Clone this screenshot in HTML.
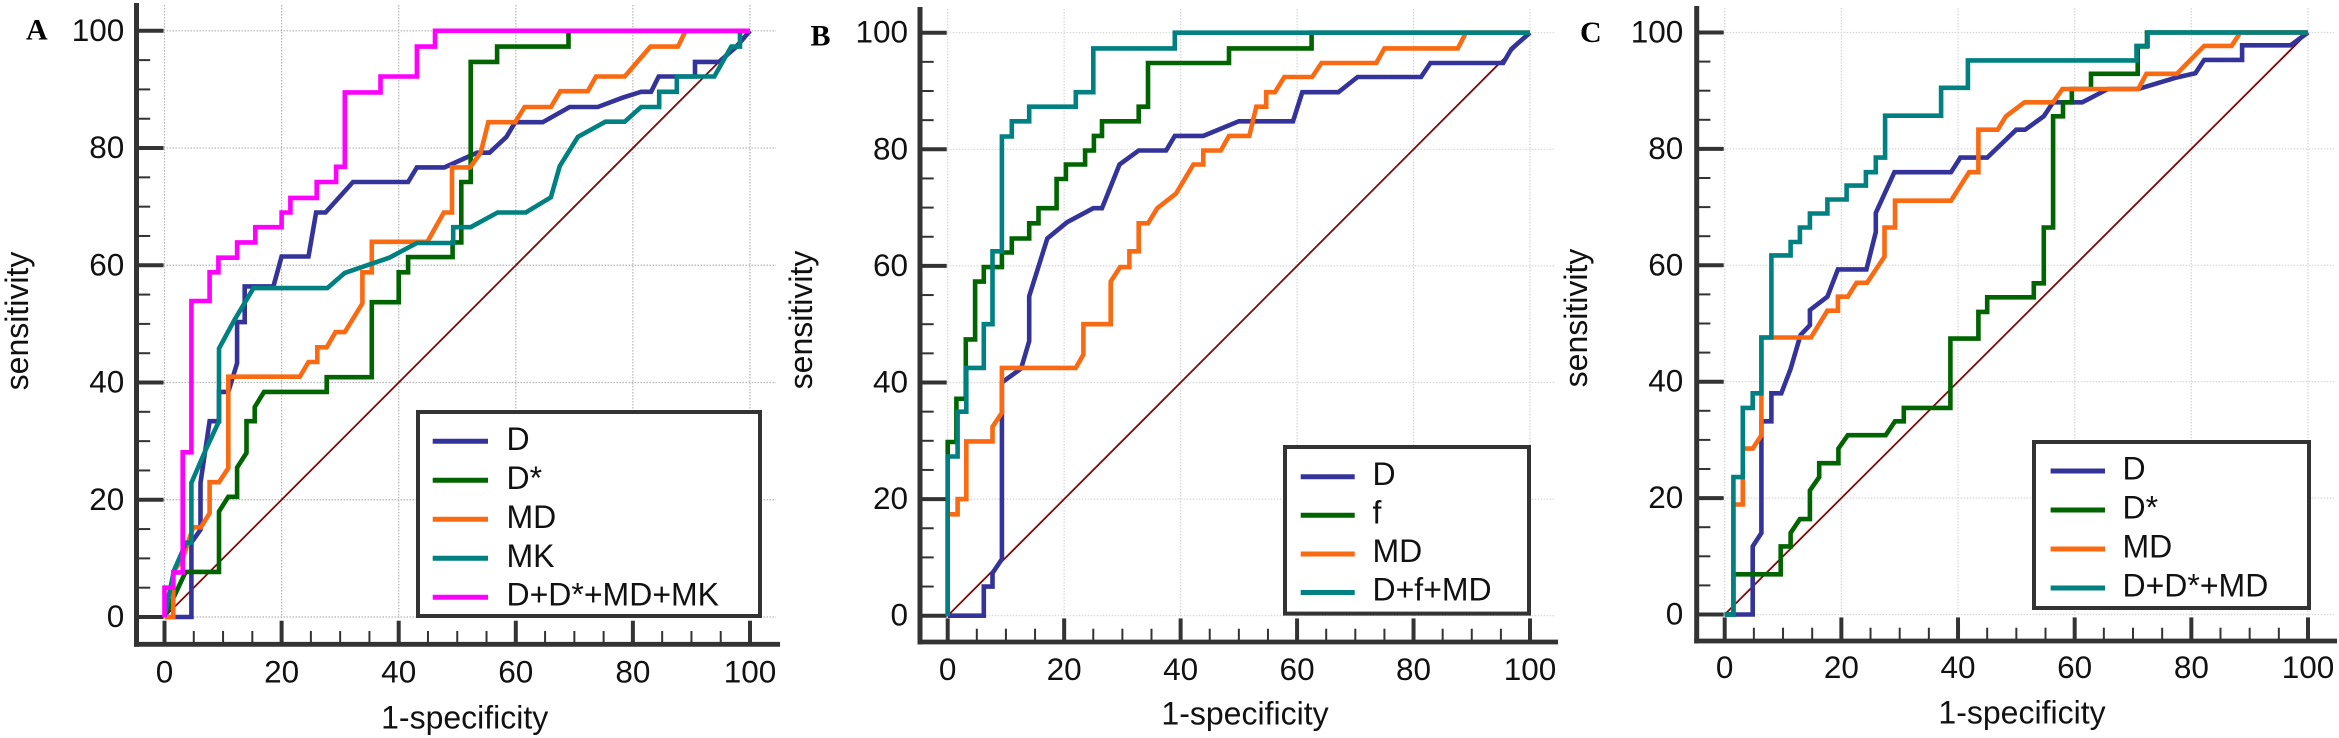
<!DOCTYPE html>
<html lang="en">
<head>
<meta charset="utf-8">
<title>ROC curves for panels A, B and C</title>
<style>
html,body{margin:0;padding:0;background:#fff;width:2339px;height:738px;overflow:hidden}
svg{display:block}
text{font-family:"Liberation Sans",sans-serif;font-size:32px;fill:#111}
.tick-text{font-size:31.5px}
.panel-letter{font-family:"Liberation Serif",serif;font-weight:bold;font-size:30px;fill:#000}
</style>
</head>
<body>
<svg id="chart" xmlns="http://www.w3.org/2000/svg" width="2339" height="738" viewBox="0 0 2339 738">
  <rect width="2339" height="738" fill="#fff"/>

  <g id="panel-a">
    <g id="panel-a-plot"></g>
    <text class="panel-letter" x="26" y="39.5">A</text>
    <text transform="translate(28,321) rotate(-90)" text-anchor="middle">sensitivity</text>
    <text x="464.7" y="728.5" text-anchor="middle">1-specificity</text>
    <g>
      <rect x="418" y="412" width="342" height="204" fill="#fff" stroke="#333" stroke-width="4"/>
      <line x1="432.7" x2="488" y1="441.3" y2="441.3" stroke="#333399" stroke-width="5"/>
      <text x="506.5" y="450">D</text>
      <line x1="432.7" x2="488" y1="480.3" y2="480.3" stroke="#006400" stroke-width="5"/>
      <text x="506.5" y="489">D*</text>
      <line x1="432.7" x2="488" y1="519.3" y2="519.3" stroke="#fa6a12" stroke-width="5"/>
      <text x="506.5" y="527.8">MD</text>
      <line x1="432.7" x2="488" y1="558.3" y2="558.3" stroke="#008080" stroke-width="5"/>
      <text x="506.5" y="566.8">MK</text>
      <line x1="432.7" x2="488" y1="597.3" y2="597.3" stroke="#ff00ff" stroke-width="5"/>
      <text x="506.5" y="605.7">D+D*+MD+MK</text>
    </g>
  </g>

  <g id="panel-b">
    <g id="panel-b-plot"></g>
    <text class="panel-letter" x="810.5" y="45.5">B</text>
    <text transform="translate(812,320) rotate(-90)" text-anchor="middle">sensitivity</text>
    <text x="1245" y="724.5" text-anchor="middle">1-specificity</text>
    <g>
      <rect x="1285" y="447" width="244" height="166.6" fill="#fff" stroke="#333" stroke-width="4"/>
      <line x1="1300.7" x2="1354.7" y1="476.7" y2="476.7" stroke="#333399" stroke-width="5"/>
      <text x="1372.5" y="485">D</text>
      <line x1="1300.7" x2="1354.7" y1="515.3" y2="515.3" stroke="#006400" stroke-width="5"/>
      <text x="1372.5" y="523.5">f</text>
      <line x1="1300.7" x2="1354.7" y1="554" y2="554" stroke="#fa6a12" stroke-width="5"/>
      <text x="1372.5" y="562.2">MD</text>
      <line x1="1300.7" x2="1354.7" y1="592.5" y2="592.5" stroke="#008080" stroke-width="5"/>
      <text x="1372.5" y="600.7">D+f+MD</text>
    </g>
  </g>

  <g id="panel-c">
    <g id="panel-c-plot"></g>
    <text class="panel-letter" x="1580" y="42">C</text>
    <text transform="translate(1587,318) rotate(-90)" text-anchor="middle">sensitivity</text>
    <text x="2022" y="723.5" text-anchor="middle">1-specificity</text>
    <g>
      <rect x="2034" y="442" width="275" height="166" fill="#fff" stroke="#333" stroke-width="4"/>
      <line x1="2050.6" x2="2105" y1="471" y2="471" stroke="#333399" stroke-width="5"/>
      <text x="2122.5" y="479.3">D</text>
      <line x1="2050.6" x2="2105" y1="510" y2="510" stroke="#006400" stroke-width="5"/>
      <text x="2122.5" y="518.3">D*</text>
      <line x1="2050.6" x2="2105" y1="549" y2="549" stroke="#fa6a12" stroke-width="5"/>
      <text x="2122.5" y="557.3">MD</text>
      <line x1="2050.6" x2="2105" y1="588" y2="588" stroke="#008080" stroke-width="5"/>
      <text x="2122.5" y="596.3">D+D*+MD</text>
    </g>
  </g>
</svg>

<script>
// Tick labels
const majorTickLabels = [0, 20, 40, 60, 80, 100];
const minorTickValues = [5, 10, 15, 25, 30, 35, 45, 50, 55, 65, 70, 75, 85, 90, 95];

// Reference (chance) diagonal
const chanceLine = [[0, 0], [100, 100]];

// Panel A series: [1-specificity, sensitivity]
const panelA_D = [[0,0],[4.6,0],[4.6,12.7],[6.15,14.9],[6.15,22.9],[6.9,28],[7.7,33.4],[9.3,33.4],[9.3,38.4],[10.9,38.4],[12.4,43.3],[12.4,50.3],[13.7,50.3],[13.7,56.4],[18.6,56.4],[20,61.5],[24.6,61.5],[25.9,69],[27.5,69],[32.2,74.2],[41.6,74.2],[43.1,76.7],[47.8,76.7],[53.4,79.2],[55.5,79.2],[58.4,81.9],[59.9,84.4],[64.6,84.4],[69.2,87],[74,87],[78.3,88.6],[81.4,89.6],[83.1,89.6],[84.4,92.2],[90.6,92.2],[90.6,94.7],[94.7,94.7],[97.7,97.3],[100,100]];
const panelA_Dstar = [[0,0],[3.6,7.7],[9.3,7.7],[9.3,18],[10.9,20.5],[12.4,20.5],[12.4,25.5],[14,28],[14,33.4],[15.4,33.4],[15.4,35.8],[17,38.4],[27.7,38.4],[27.7,40.9],[35.4,40.9],[35.4,53.7],[40,53.7],[40,58.8],[41.6,58.8],[41.6,61.4],[49.2,61.4],[49.2,63.9],[50.7,63.9],[50.7,74.2],[52.3,74.2],[52.3,94.7],[56.8,94.7],[56.8,97.3],[69,97.3],[69,100],[100,100]];
const panelA_MD = [[0,0],[1.5,0],[1.5,4.7],[1.5,7.7],[3.1,10],[4.9,15.3],[6.2,15.3],[7.7,17.7],[7.7,23],[9.3,23],[10.9,25.4],[10.9,41],[23.1,41],[24.6,43.5],[26.1,43.5],[26.1,46],[27.7,46],[29.2,48.6],[30.8,48.6],[33.8,53.5],[33.8,58.8],[35.4,58.8],[35.4,64],[44.9,64],[47.7,69],[49.1,69],[49.1,76.7],[52.2,76.7],[54,79.2],[55.3,84.4],[59.9,84.4],[61.5,87],[66,87],[67.6,89.7],[72.3,89.7],[73.7,92.2],[78.6,92.2],[83,97.3],[87.7,97.3],[89,100],[100,100]];
const panelA_MK = [[0,0],[1.6,7.9],[3.7,12.7],[4.6,12.7],[4.6,22.9],[7.2,28.9],[9.3,33.4],[9.3,45.8],[11.9,50.6],[15.2,56.1],[27.8,56.1],[30.8,58.7],[38.4,61.3],[43.1,63.8],[49.3,63.8],[49.3,66.5],[52.3,66.5],[56.9,69],[61.7,69],[66,71.6],[67.5,76.9],[70.6,81.9],[75.3,84.5],[78.6,84.5],[81.4,87],[84.5,87],[84.5,89.6],[87.5,89.6],[87.5,92.2],[93.9,92.2],[96.8,97.3],[98.3,97.3],[98.3,100],[100,100]];
const panelA_Combined = [[0,0],[0,5],[1.5,5],[1.5,7.6],[3.1,7.6],[3.1,28.1],[4.6,28.1],[4.6,53.9],[7.7,53.9],[7.7,58.8],[9.2,58.8],[9.2,61.3],[12.4,61.3],[12.4,63.9],[15.5,63.9],[15.5,66.5],[20,66.5],[20,69],[21.5,69],[21.5,71.5],[26,71.5],[26,74.2],[29.3,74.2],[29.3,76.8],[30.8,76.8],[30.8,89.5],[36.9,89.5],[36.9,92.2],[43.1,92.2],[43.1,97.3],[46.2,97.3],[46.2,100],[100,100]];

// Panel B series
const panelB_D = [[0,0],[6.2,0],[6.2,5],[7.7,5],[7.7,7.3],[9.3,9.7],[9.3,40],[12.6,42.4],[14,47.1],[14,54.8],[17.1,64.7],[20.5,67.5],[25,69.9],[26.5,69.9],[29.5,77.4],[32.8,79.8],[37.5,79.8],[39,82.3],[43.9,82.3],[50,84.8],[59.3,84.8],[60.9,89.8],[67.1,89.8],[70.4,92.4],[81.3,92.4],[82.9,94.8],[95.4,94.8],[96.8,97.2],[100,100]];
const panelB_f = [[0,0],[0,29.8],[1.5,29.8],[1.5,37.2],[3.1,37.2],[3.1,47.4],[4.7,47.4],[4.7,57.3],[6.2,57.3],[6.2,59.8],[9.3,59.8],[9.3,62.3],[11,62.3],[11,64.7],[14,64.7],[14,67.3],[15.6,67.3],[15.6,69.9],[18.7,69.9],[18.7,74.9],[20.3,74.9],[20.3,77.4],[23.6,77.4],[23.6,79.8],[25.1,79.8],[25.1,82.3],[26.5,82.3],[26.5,84.8],[32.8,84.8],[32.8,87.3],[34.4,87.3],[34.4,94.8],[48.3,94.8],[48.3,97.3],[62.5,97.3],[62.5,100],[100,100]];
const panelB_MD = [[0,0],[0,17.4],[1.7,17.4],[1.7,20],[3.2,20],[3.2,29.9],[7.7,29.9],[7.7,32.4],[9.3,34.8],[9.3,42.5],[22,42.5],[23.3,44.8],[23.3,50],[28,50],[28,57.3],[29.6,59.8],[31.2,59.8],[31.2,62.5],[32.8,62.5],[32.8,67.3],[34.4,67.3],[36,69.9],[39.2,72.4],[42.2,77.4],[43.9,77.4],[43.9,79.8],[46.9,79.8],[48.3,82.3],[51.8,82.3],[53,87.3],[54.7,87.3],[54.7,89.8],[56.2,89.8],[57.8,92.4],[62.6,92.4],[64.2,94.8],[73.6,94.8],[75,97.3],[87.6,97.3],[89,100],[100,100]];
const panelB_Combined = [[0,0],[0,27.3],[1.7,27.3],[1.7,35],[3.2,35],[3.2,42.5],[6.2,42.5],[6.2,50],[7.7,50],[7.7,62.5],[9.3,62.5],[9.3,82.2],[11,82.2],[11,84.8],[14,84.8],[14,87.3],[22,87.3],[22,89.8],[25,89.8],[25,97.3],[39,97.3],[39,100],[100,100]];

// Panel C series
const panelC_D = [[0,0],[4.8,0],[4.8,11.7],[6.3,14],[6.3,33.2],[8,33.2],[8,38],[9.7,38],[11.3,42.2],[13,48],[14.6,49.7],[14.6,52.3],[17.6,54.6],[19.4,59.3],[24.3,59.3],[25.9,65.7],[25.9,69],[29.1,76],[38.8,76],[40.4,78.5],[45,78.5],[50,83.3],[51.5,83.3],[54.7,85.6],[56.3,88],[61.3,88],[65.7,90.3],[70.9,90.3],[77.2,92.2],[80.7,93],[82.2,95.3],[88.7,95.3],[88.7,97.8],[97,97.8],[100,100]];
const panelC_Dstar = [[0,0],[1.5,0],[1.5,6.9],[9.6,6.9],[9.6,11.7],[11.3,11.7],[11.3,14],[12.9,16.4],[14.6,16.4],[14.6,21.3],[16.2,23.6],[16.2,26],[19.5,26],[19.5,28.5],[21.1,30.8],[27.6,30.8],[29.2,33.2],[30.7,33.2],[30.7,35.5],[38.7,35.5],[38.7,47.4],[43.5,47.4],[43.5,52],[45,52],[45,54.5],[53,54.5],[53,56.9],[54.7,56.9],[54.7,66.5],[56.3,66.5],[56.3,85.6],[58,85.6],[58,88],[59.5,88],[59.5,90.3],[62.8,90.3],[62.8,92.9],[70.8,92.9],[70.8,97.6],[72.4,97.6],[72.4,100],[100,100]];
const panelC_MD = [[1.5,0],[1.5,18.9],[3.1,18.9],[3.1,28.5],[4.8,28.5],[6.3,30.8],[6.3,47.6],[14.8,47.6],[17.6,52.2],[19.4,52.2],[19.4,54.6],[21.1,54.6],[22.6,57],[24.4,57],[27.4,61.5],[27.4,66.5],[29.2,66.5],[29.2,71.1],[38.8,71.1],[41.9,76],[43.5,76],[43.5,83.3],[46.8,83.3],[48.2,85.6],[51.4,88],[56.3,88],[57.9,90.3],[70.9,90.3],[72.3,92.9],[77.5,92.9],[82.2,97.7],[86.9,97.7],[88.4,100],[100,100]];
const panelC_Combined = [[0,0],[1.5,0],[1.5,23.6],[3.1,23.6],[3.1,35.5],[4.8,35.5],[4.8,38],[6.3,38],[6.3,47.6],[8,47.6],[8,61.7],[11.3,61.7],[11.3,64],[12.9,64],[12.9,66.5],[14.6,66.5],[14.6,68.9],[17.6,68.9],[17.6,71.3],[20.9,71.3],[20.9,73.7],[24.2,73.7],[24.2,76],[25.9,76],[25.9,78.5],[27.5,78.5],[27.5,85.7],[37.1,85.7],[37.1,90.5],[41.7,90.5],[41.7,95.2],[70.6,95.2],[70.6,97.7],[72.5,97.7],[72.5,100],[100,100]];

// Layout of each panel (separate from the data above)
const panels = [
  {name:'panel-a', host:'panel-a-plot', x0:164.5, x100:750, y0:617, y100:30.8, axisX:136.5, axisY:644.3, axisTop:3, axisRight:780, gridRight:776, gridTop:5, gridColor:'#b4b4b4', yLabelX:124.3, xLabelY:682.5,
   series:[['D','#333399',panelA_D],['D-star','#006400',panelA_Dstar],['MD','#fa6a12',panelA_MD],['MK','#008080',panelA_MK],['combined','#ff00ff',panelA_Combined]]},
  {name:'panel-b', host:'panel-b-plot', x0:947.7, x100:1530, y0:615.7, y100:32.7, axisX:920, axisY:642, axisTop:7, axisRight:1558, gridRight:1555, gridTop:9, gridColor:'#d6d6d6', yLabelX:908, xLabelY:680,
   series:[['D','#333399',panelB_D],['f','#006400',panelB_f],['MD','#fa6a12',panelB_MD],['combined','#008080',panelB_Combined]]},
  {name:'panel-c', host:'panel-c-plot', x0:1724.7, x100:2308, y0:614.5, y100:32.5, axisX:1696.7, axisY:641, axisTop:6, axisRight:2337, gridRight:2334, gridTop:8, gridColor:'#d6d6d6', yLabelX:1683.3, xLabelY:678,
   series:[['D','#333399',panelC_D],['D-star','#006400',panelC_Dstar],['MD','#fa6a12',panelC_MD],['combined','#008080',panelC_Combined]]}
];

const SVG_NS = 'http://www.w3.org/2000/svg';

function shape(tag, attrs, parent) {
  const el = document.createElementNS(SVG_NS, tag);
  for (const key in attrs) el.setAttribute(key, attrs[key]);
  parent.appendChild(el);
  return el;
}

panels.forEach(function (p) {
  const host = document.getElementById(p.host);
  const xScale = function (v) { return p.x0 + (p.x100 - p.x0) * v / 100; };
  const yScale = function (v) { return p.y0 + (p.y100 - p.y0) * v / 100; };

  // Gridlines
  majorTickLabels.forEach(function (t) {
    const gx = shape('line', {x1:xScale(t), x2:xScale(t), y1:p.gridTop, y2:p.y0 + 1, stroke:p.gridColor, 'stroke-width':1.2, 'stroke-dasharray':'1.5 1.5'}, host);
    
    
    const gy = shape('line', {x1:p.x0 - 1, x2:p.gridRight, y1:yScale(t), y2:yScale(t), stroke:p.gridColor, 'stroke-width':1.2, 'stroke-dasharray':'1.5 1.5'}, host);
    
    
  });

  // Major ticks and labels
  majorTickLabels.forEach(function (t) {
    const tx = shape('line', {x1:xScale(t), x2:xScale(t), y1:p.axisY, y2:p.axisY - 23.6, stroke:'#333', 'stroke-width':4}, host);
    
    
    const ty = shape('line', {x1:p.axisX, x2:p.x0 - 1, y1:yScale(t), y2:yScale(t), stroke:'#333', 'stroke-width':4}, host);
    
    
    const lx = shape('text', {x:xScale(t), y:p.xLabelY, 'text-anchor':'middle', 'class':'tick-text'}, host);
    lx.textContent = String(t);
    
    
    const ly = shape('text', {x:p.yLabelX, y:yScale(t) + 10, 'text-anchor':'end', 'class':'tick-text'}, host);
    ly.textContent = String(t);
    
    
  });

  // Minor ticks
  minorTickValues.forEach(function (t) {
    const mx = shape('line', {x1:xScale(t), x2:xScale(t), y1:p.axisY, y2:p.axisY - 13.3, stroke:'#333', 'stroke-width':2}, host);
    
    
    const my = shape('line', {x1:p.axisX, x2:p.axisX + 13.7, y1:yScale(t), y2:yScale(t), stroke:'#333', 'stroke-width':2}, host);
    
    
  });

  // Axis lines
  const yAxis = shape('line', {x1:p.axisX, x2:p.axisX, y1:p.axisTop, y2:p.axisY + 2.4, stroke:'#333', 'stroke-width':5}, host);
  
  
  const xAxis = shape('line', {x1:p.axisX - 2.5, x2:p.axisRight, y1:p.axisY, y2:p.axisY, stroke:'#333', 'stroke-width':4.8}, host);
  
  

  // Chance diagonal
  const diag = shape('polyline', {points:chanceLine.map(function (d) { return xScale(d[0]) + ',' + yScale(d[1]); }).join(' '), fill:'none', stroke:'#7b0a0a', 'stroke-width':1.8}, host);
  
  

  // ROC curves
  p.series.forEach(function (s) {
    const curve = shape('polyline', {points:s[2].map(function (d) { return xScale(d[0]).toFixed(1) + ',' + yScale(d[1]).toFixed(1); }).join(' '), fill:'none', stroke:s[1], 'stroke-width':4.6, 'stroke-linejoin':'miter', 'stroke-miterlimit':3}, host);
    
    
  });
});
</script>
</body>
</html>
